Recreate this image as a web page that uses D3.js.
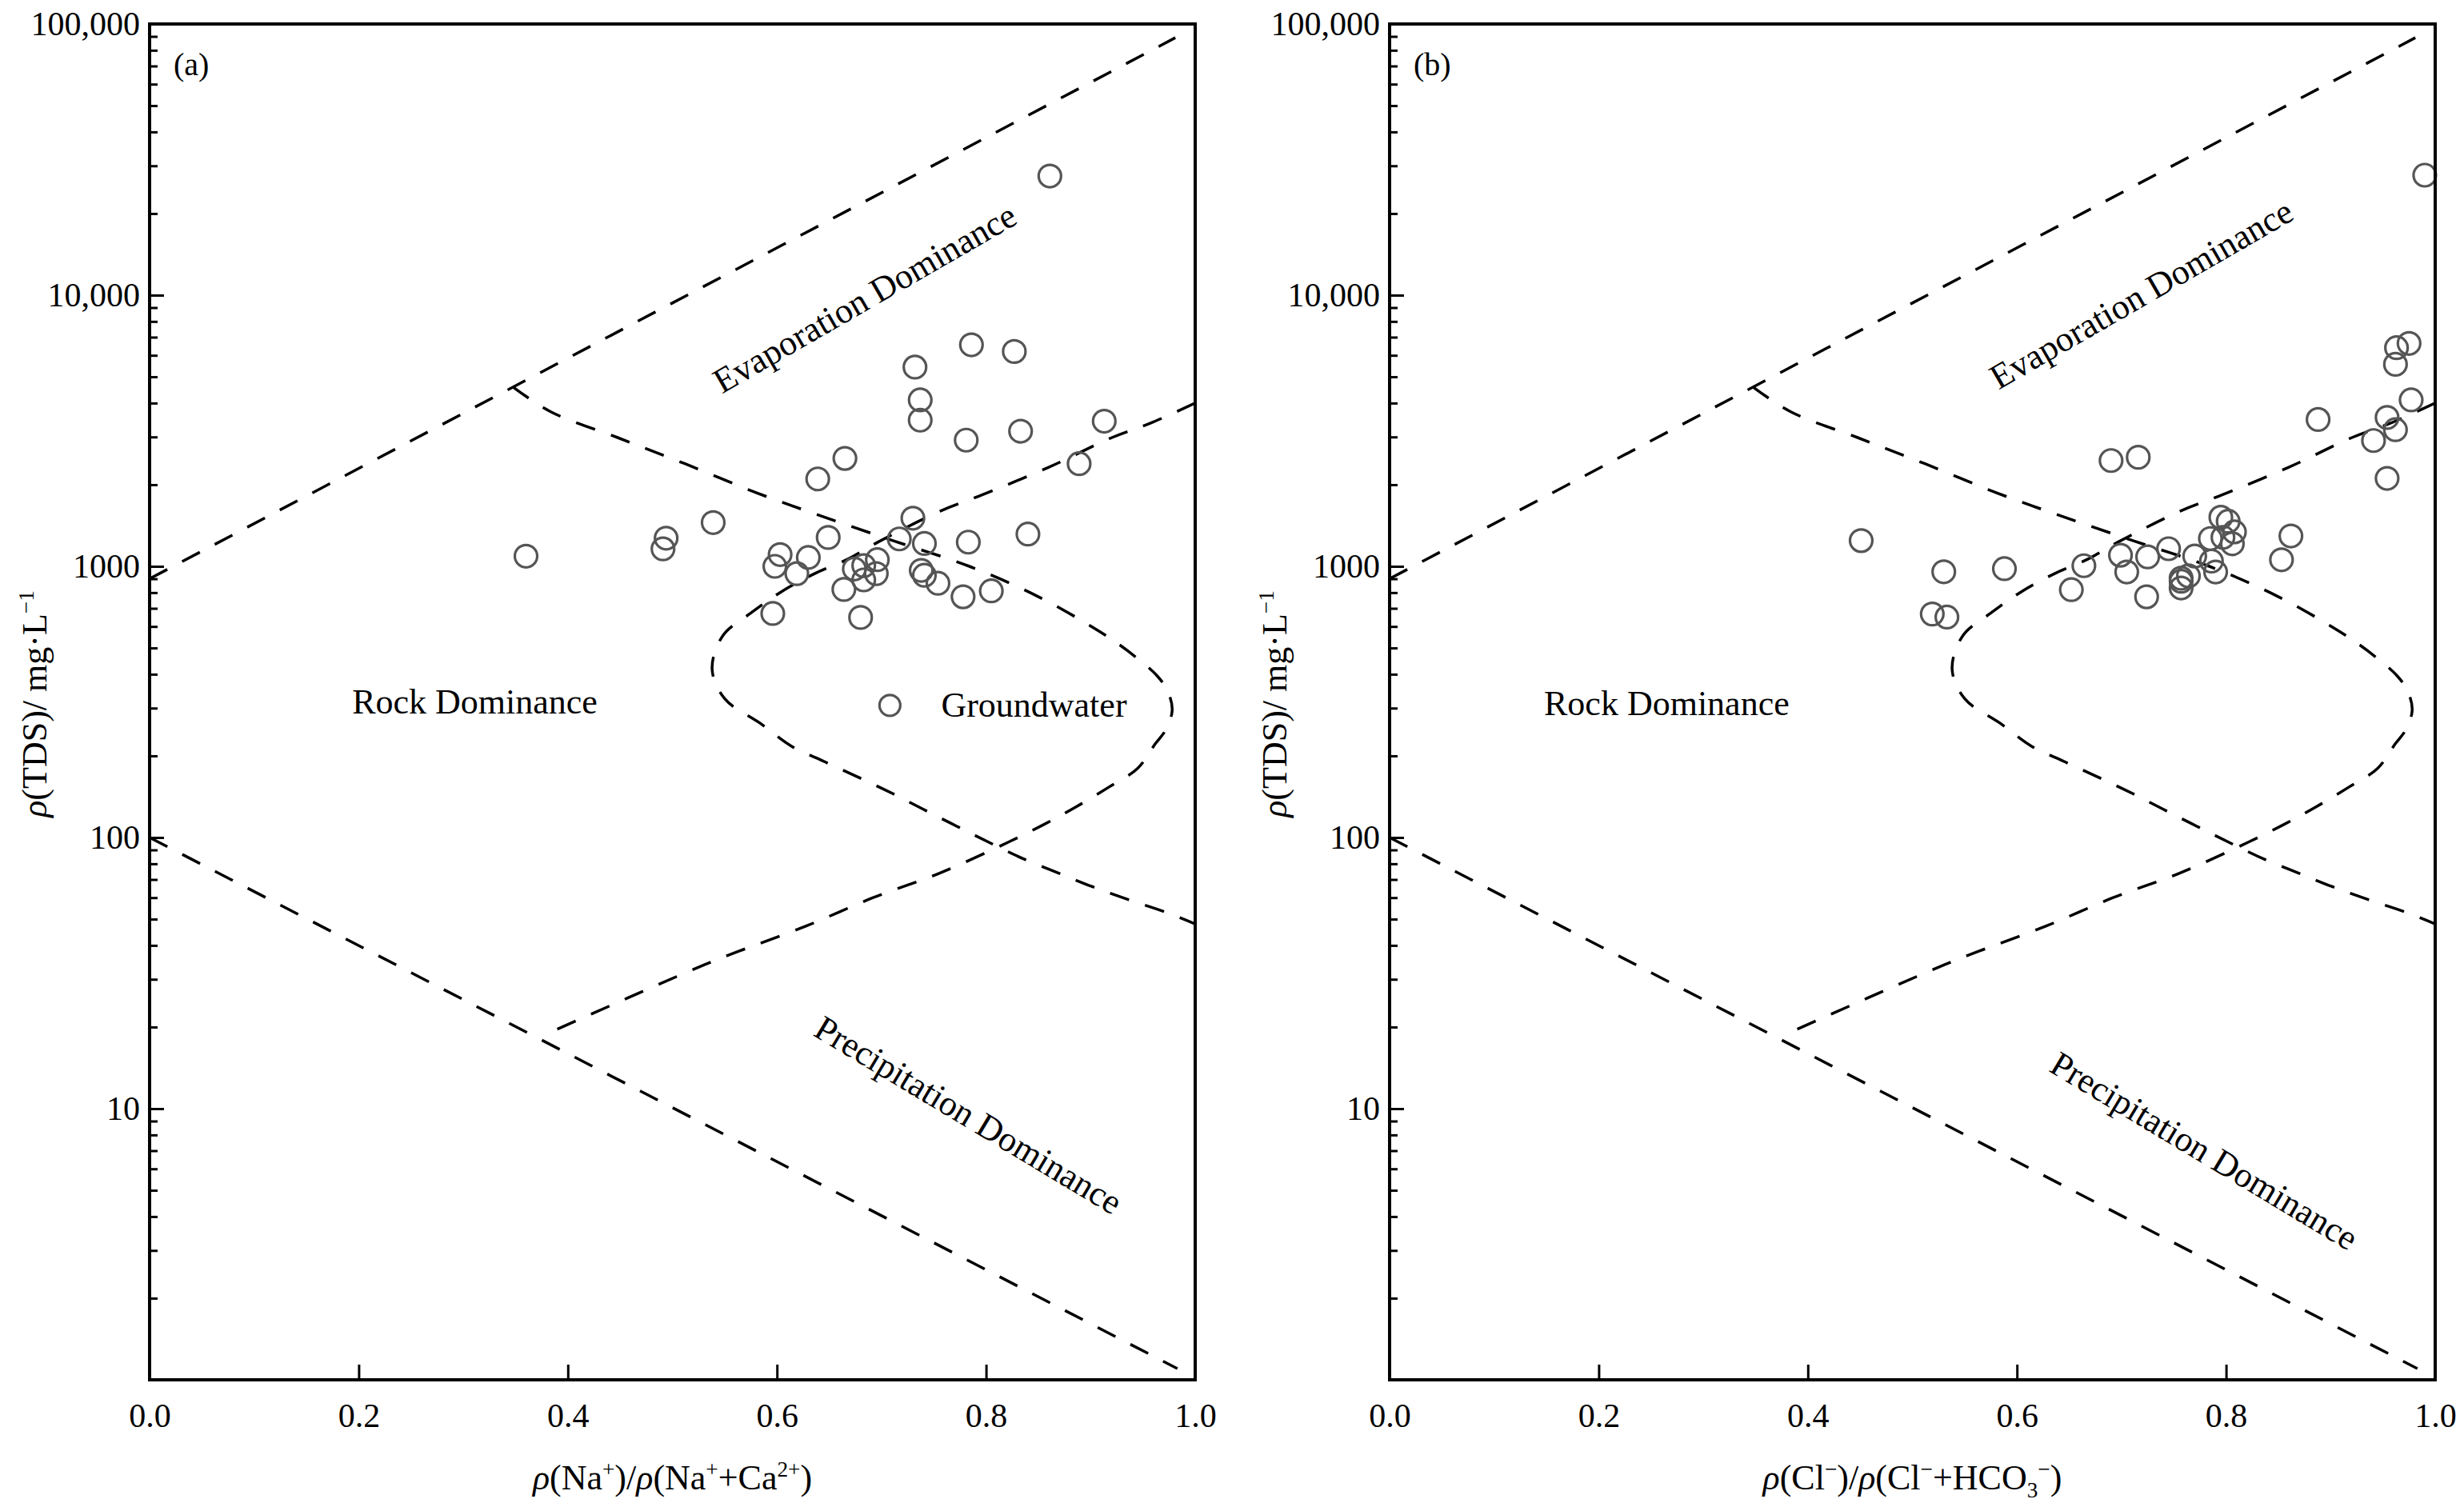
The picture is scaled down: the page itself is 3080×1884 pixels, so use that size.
<!DOCTYPE html>
<html>
<head>
<meta charset="utf-8">
<script src="https://cdn.jsdelivr.net/npm/d3@7"></script>
<style>
  html, body { margin: 0; padding: 0; background: #fff; }
  svg { display: block; font-family: "Liberation Serif", "Times New Roman", serif; }
</style>
</head>
<body>
<div class="canvas"></div>
<script>
// ---------- data ----------
const xTicks = [0, 0.2, 0.4, 0.6, 0.8, 1.0];
const xTickLabels = ["0.0", "0.2", "0.4", "0.6", "0.8", "1.0"];
const yMajorTicks = [10, 100, 1000, 10000, 100000];
const yTickLabels = ["10", "100", "1000", "10,000", "100,000"];

// (a) Na+/(Na+ + Ca2+) vs TDS
const naRatio = [0.861, 0.786, 0.827, 0.732, 0.737, 0.737, 0.781, 0.833, 0.913, 0.889,
  0.665, 0.639, 0.539, 0.494, 0.491, 0.360, 0.730, 0.717, 0.741, 0.783,
  0.840, 0.649, 0.603, 0.630, 0.598, 0.619, 0.696, 0.683, 0.674, 0.695,
  0.683, 0.664, 0.738, 0.741, 0.754, 0.778, 0.805, 0.596, 0.680];
const tdsNa = [27500, 6560, 6200, 5430, 4110, 3460, 2920, 3150, 3430, 2390,
  2500, 2100, 1450, 1270, 1160, 1090, 1505, 1262, 1214, 1228,
  1315, 1278, 1105, 1078, 1000, 940, 1058, 1006, 978, 940,
  891, 822, 966, 927, 866, 772, 812, 670, 648];

// (b) Cl-/(Cl- + HCO3-) vs TDS
const clRatio = [0.990, 0.963, 0.975, 0.962, 0.977, 0.954, 0.962, 0.941, 0.954, 0.888,
  0.690, 0.716, 0.451, 0.530, 0.588, 0.519, 0.533, 0.652, 0.664, 0.699,
  0.705, 0.725, 0.724, 0.745, 0.770, 0.757, 0.757, 0.757, 0.764, 0.786,
  0.790, 0.785, 0.797, 0.795, 0.802, 0.808, 0.806, 0.862, 0.853];
const tdsCl = [27700, 6400, 6640, 5560, 4110, 3540, 3190, 2910, 2110, 3480,
  2455, 2525, 1244, 955, 980, 667, 650, 820, 1005, 1099,
  953, 1084, 772, 1161, 1091, 904, 881, 832, 922, 1045,
  953, 1266, 1279, 1517, 1466, 1340, 1211, 1294, 1057];

// Gibbs boundaries [ratio, TDS]
const evapLine = [[0, 900], [0.981, 89000]];
const precipLine = [[0, 100], [0.983, 1.1]];
const rightLoop = [[0.347, 4600], [0.384, 3710], [0.448, 2980], [0.512, 2390], [0.580, 1870],
  [0.644, 1525], [0.712, 1240], [0.784, 1000], [0.849, 776], [0.907, 580], [0.936, 486],
  [0.964, 393], [0.974, 344], [0.978, 295], [0.972, 250], [0.962, 222], [0.945, 180],
  [0.917, 153], [0.885, 129], [0.854, 111], [0.821, 96], [0.756, 74], [0.692, 60],
  [0.627, 47], [0.563, 38], [0.531, 34], [0.376, 18.6]];
const leftLoop = [[1.0, 4000], [0.957, 3370], [0.920, 2980], [0.860, 2320], [0.792, 1808],
  [0.756, 1597], [0.696, 1225], [0.668, 1064], [0.636, 940], [0.604, 805], [0.576, 677],
  [0.548, 553], [0.538, 417], [0.550, 325], [0.585, 262], [0.614, 217], [0.646, 190],
  [0.679, 166], [0.711, 145], [0.740, 127], [0.772, 110], [0.805, 95], [0.837, 83],
  [0.869, 74], [0.901, 66], [0.936, 59], [0.972, 53], [1.0, 48]];

// ---------- layout ----------
const width = 3080, height = 1884;
const plotTop = 30, plotBottom = 1725;

const panels = [
  {
    tag: "(a)", left: 187, right: 1494, xs: naRatio, ys: tdsNa, yTitleX: 58,
    xTitle: [{t: "ρ", i: true}, {t: "(Na"}, {t: "+", sup: true}, {t: ")/"}, {t: "ρ", i: true},
      {t: "(Na"}, {t: "+", sup: true}, {t: "+Ca"}, {t: "2+", sup: true}, {t: ")"}],
    notes: [
      {text: "Evaporation Dominance", x: 0.684, y: 9730, rot: -30},
      {text: "Rock Dominance", x: 0.311, y: 316, rot: 0},
      {text: "Precipitation Dominance", x: 0.783, y: 9.46, rot: 31}
    ],
    legend: {x: 0.708, y: 307, textX: 0.757, text: "Groundwater"}
  },
  {
    tag: "(b)", left: 1737, right: 3044, xs: clRatio, ys: tdsCl, yTitleX: 1608,
    xTitle: [{t: "ρ", i: true}, {t: "(Cl"}, {t: "−", sup: true}, {t: ")/"}, {t: "ρ", i: true},
      {t: "(Cl"}, {t: "−", sup: true}, {t: "+HCO"}, {t: "3", sub: true}, {t: "−", sup: true}, {t: ")"}],
    notes: [
      {text: "Evaporation Dominance", x: 0.719, y: 10070, rot: -30},
      {text: "Rock Dominance", x: 0.265, y: 311, rot: 0},
      {text: "Precipitation Dominance", x: 0.779, y: 6.98, rot: 31}
    ],
    legend: null
  }
];

const yTitle = [{t: "ρ", i: true}, {t: "(TDS)/ mg·L"}, {t: "−1", sup: true}];

const svg = d3.select(".canvas").append("svg")
  .attr("width", width)
  .attr("height", height);

// write runs of text with italics / super / subscripts
function addRuns(textSel, runs, size) {
  runs.forEach(r => {
    const ts = textSel.append("tspan").text(r.t);
    if (r.i) ts.attr("font-style", "italic");
    if (r.sup) ts.attr("font-size", size * 0.62).attr("baseline-shift", size * 0.36);
    if (r.sub) ts.attr("font-size", size * 0.62).attr("baseline-shift", -size * 0.22);
  });
}

panels.forEach((p, k) => {
  const x = d3.scaleLinear().domain([0, 1]).range([p.left, p.right]);
  const y = d3.scaleLog().domain([1, 100000]).range([plotBottom, plotTop]);
  const g = svg.append("g");

  const clipId = "clip" + k;
  svg.append("clipPath").attr("id", clipId)
    .append("rect")
    .attr("x", p.left).attr("y", plotTop)
    .attr("width", p.right - p.left).attr("height", plotBottom - plotTop);

  // x axis, ticks pointing inward
  const xAxis = g.append("g")
    .attr("transform", `translate(0,${plotBottom})`)
    .call(d3.axisBottom(x).tickValues(xTicks).tickSize(-19).tickPadding(29)
      .tickFormat((d, i) => xTickLabels[i]));
  xAxis.select(".domain").remove();
  xAxis.selectAll("line").attr("stroke", "#000").attr("stroke-width", 3);
  xAxis.selectAll("text").attr("font-size", 42).attr("fill", "#000")
    .attr("font-family", "Liberation Serif");

  // y axis, major and minor log ticks
  const minor = y.ticks().filter(v => v > 1 && !yMajorTicks.includes(v));
  const yMinor = g.append("g")
    .attr("transform", `translate(${p.left},0)`)
    .call(d3.axisLeft(y).tickValues(minor).tickSize(-10).tickFormat(""));
  yMinor.select(".domain").remove();
  yMinor.selectAll("line").attr("stroke", "#000").attr("stroke-width", 3);

  const yAxis = g.append("g")
    .attr("transform", `translate(${p.left},0)`)
    .call(d3.axisLeft(y).tickValues(yMajorTicks).tickSize(-18).tickPadding(12)
      .tickFormat((d, i) => yTickLabels[i]));
  yAxis.select(".domain").remove();
  yAxis.selectAll("line").attr("stroke", "#000").attr("stroke-width", 3);
  yAxis.selectAll("text").attr("font-size", 42).attr("fill", "#000")
    .attr("font-family", "Liberation Serif");

  // boundary lines
  const straight = d3.line().x(d => x(d[0])).y(d => y(d[1]));
  const smooth = d3.line().x(d => x(d[0])).y(d => y(d[1])).curve(d3.curveCatmullRom.alpha(0.5));
  const bounds = g.append("g").attr("clip-path", `url(#${clipId})`)
    .attr("fill", "none").attr("stroke", "#000")
    .attr("stroke-width", 3.5).attr("stroke-dasharray", "25 21");
  bounds.append("path").attr("d", straight(evapLine));
  bounds.append("path").attr("d", straight(precipLine));
  bounds.append("path").attr("d", smooth(rightLoop));
  bounds.append("path").attr("d", smooth(leftLoop));

  // samples
  g.append("g").selectAll("circle")
    .data(d3.zip(p.xs, p.ys))
    .join("circle")
    .attr("cx", d => x(d[0]))
    .attr("cy", d => y(d[1]))
    .attr("r", 14)
    .attr("fill", "none")
    .attr("stroke", "#555")
    .attr("stroke-width", 3.2);

  // frame
  g.append("rect")
    .attr("x", p.left).attr("y", plotTop)
    .attr("width", p.right - p.left).attr("height", plotBottom - plotTop)
    .attr("fill", "none").attr("stroke", "#000").attr("stroke-width", 4);

  // region labels
  p.notes.forEach(n => {
    g.append("text")
      .attr("transform", `translate(${x(n.x)},${y(n.y)}) rotate(${n.rot})`)
      .attr("text-anchor", "middle")
      .attr("dominant-baseline", "central")
      .attr("font-size", 44)
      .attr("fill", "#000")
      .text(n.text);
  });

  // legend
  if (p.legend) {
    g.append("circle")
      .attr("cx", x(p.legend.x)).attr("cy", y(p.legend.y)).attr("r", 13)
      .attr("fill", "none").attr("stroke", "#555").attr("stroke-width", 3.2);
    g.append("text")
      .attr("x", x(p.legend.textX)).attr("y", y(p.legend.y))
      .attr("dominant-baseline", "central")
      .attr("font-size", 44)
      .text(p.legend.text);
  }

  // panel tag
  g.append("text")
    .attr("x", x(0.023)).attr("y", y(71200))
    .attr("dominant-baseline", "central")
    .attr("font-size", 40)
    .text(p.tag);

  // axis titles
  const xt = g.append("text")
    .attr("x", (p.left + p.right) / 2).attr("y", 1862)
    .attr("text-anchor", "middle")
    .attr("font-size", 44);
  addRuns(xt, p.xTitle, 44);

  const yt = g.append("text")
    .attr("transform", `translate(${p.yTitleX},880) rotate(-90)`)
    .attr("text-anchor", "middle")
    .attr("font-size", 44);
  addRuns(yt, yTitle, 44);
});
</script>
</body>
</html>
